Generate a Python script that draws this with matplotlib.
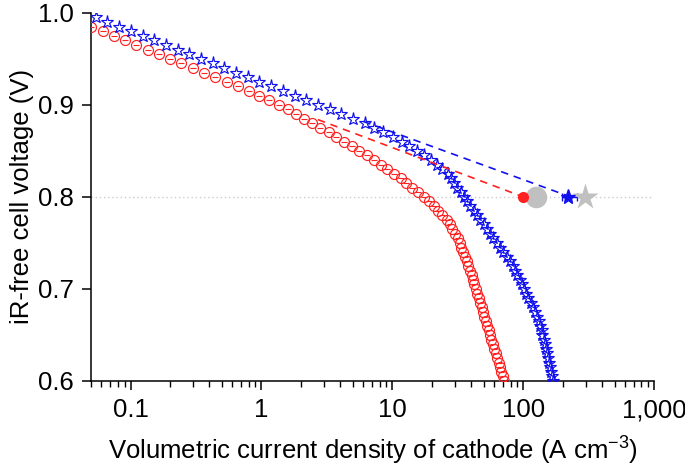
import matplotlib
matplotlib.use("Agg")
import matplotlib.pyplot as plt
from matplotlib.ticker import FixedLocator, FixedFormatter, LogLocator, NullFormatter

plt.rcParams["font.family"] = ["Liberation Sans", "DejaVu Sans"]
plt.rcParams["mathtext.default"] = "regular"

# polarisation curve 1 (red circles): cell voltage (V) vs volumetric current (A cm^-3)
red_v = [0.985, 0.980, 0.975, 0.970, 0.965, 0.960, 0.955, 0.950, 0.945, 0.940,
         0.935, 0.930, 0.925, 0.920, 0.915, 0.910, 0.905, 0.900, 0.895, 0.890,
         0.885, 0.880, 0.875, 0.870, 0.865, 0.860, 0.855, 0.850, 0.845, 0.840,
         0.835, 0.830, 0.825, 0.820, 0.815, 0.810, 0.805, 0.800, 0.795, 0.790,
         0.785, 0.780, 0.775, 0.770, 0.765, 0.760, 0.755, 0.750, 0.745, 0.740,
         0.735, 0.730, 0.725, 0.720, 0.715, 0.710, 0.705, 0.700, 0.695, 0.690,
         0.685, 0.680, 0.675, 0.670, 0.665, 0.660, 0.655, 0.650, 0.645, 0.640,
         0.635, 0.630, 0.625, 0.620, 0.615, 0.610, 0.605, 0.600]
red_i = [0.0501, 0.0611, 0.0745, 0.0910, 0.111, 0.135, 0.165, 0.201, 0.245, 0.299,
         0.365, 0.445, 0.542, 0.662, 0.807, 0.964, 1.15, 1.37, 1.59, 1.83,
         2.11, 2.44, 2.82, 3.26, 3.73, 4.27, 4.89, 5.60, 6.41, 7.22,
         8.13, 9.15, 10.3, 11.6, 12.8, 14.2, 15.7, 17.3, 19.1, 20.7,
         22.3, 24.1, 26.0, 27.4, 28.8, 30.2, 31.8, 32.7, 33.7, 34.8,
         35.9, 37.0, 38.1, 39.3, 40.3, 41.3, 42.4, 43.4, 44.5, 45.6,
         46.8, 48.0, 49.2, 50.5, 51.8, 53.1, 54.3, 55.7, 57.1, 58.6,
         60.1, 61.7, 63.2, 64.9, 66.4, 68.1, 69.8, 71.6]

# polarisation curve 2 (blue stars)
blue_v = [0.995, 0.990, 0.985, 0.980, 0.975, 0.970, 0.965, 0.960, 0.955, 0.950,
          0.945, 0.940, 0.935, 0.930, 0.925, 0.920, 0.915, 0.910, 0.905, 0.900,
          0.895, 0.890, 0.885, 0.880, 0.875, 0.870, 0.865, 0.860, 0.855, 0.850,
          0.845, 0.840, 0.835, 0.830, 0.825, 0.820, 0.815, 0.810, 0.805, 0.800,
          0.795, 0.790, 0.785, 0.780, 0.775, 0.770, 0.765, 0.760, 0.755, 0.750,
          0.745, 0.740, 0.735, 0.730, 0.725, 0.720, 0.715, 0.710, 0.705, 0.700,
          0.695, 0.690, 0.685, 0.680, 0.675, 0.670, 0.665, 0.660, 0.655, 0.650,
          0.645, 0.640, 0.635, 0.630, 0.625, 0.620, 0.615, 0.610, 0.605, 0.600]
blue_i = [0.0543, 0.0667, 0.0820, 0.1007, 0.124, 0.152, 0.187, 0.229, 0.281, 0.346,
          0.425, 0.521, 0.640, 0.787, 0.966, 1.19, 1.46, 1.79, 2.20, 2.70,
          3.32, 4.07, 5.00, 6.15, 7.24, 8.55, 10.1, 11.9, 13.5, 15.3,
          17.4, 19.8, 21.8, 24.0, 26.4, 28.0, 29.6, 31.4, 33.3, 35.2,
          37.3, 39.5, 41.9, 44.4, 47.0, 49.8, 52.7, 55.8, 59.2, 62.7,
          66.4, 70.3, 74.5, 78.9, 83.6, 86.9, 90.2, 93.8, 97.5, 101,
          105, 109, 114, 118, 123, 127, 132, 135, 138, 140,
          143, 146, 149, 151, 154, 157, 160, 164, 167, 170]

# Tafel extrapolations down to 0.8 V
red_fit_i = [2.7, 100]
red_fit_v = [0.884, 0.80]
blue_fit_i = [6.0, 230]
blue_fit_v = [0.882, 0.80]

# single points at 0.8 V
red_dot_i, red_dot_v = 100, 0.80
grey_circle_i, grey_circle_v = 126, 0.80
blue_star_i, blue_star_v = 220, 0.80
blue_star_err = [[24], [36]]
grey_star_i, grey_star_v = 296, 0.80

xtick_vals = [0.1, 1, 10, 100, 1000]
xtick_labels = ["0.1", "1", "10", "100", "1,000"]
ytick_vals = [0.6, 0.7, 0.8, 0.9, 1.0]
ytick_labels = ["0.6", "0.7", "0.8", "0.9", "1.0"]

RED = "#ff2020"
BLUE = "#1010ee"
GREY = "#c0c0c0"
FS = 18.5

fig = plt.figure(figsize=(6.85, 4.75), dpi=100)
ax = fig.add_axes([0.133, 0.198, 0.822, 0.775])

ax.axhline(0.8, color="#cccccc", lw=1.0, ls=(0, (1, 2)), zorder=0)

ax.plot(red_i, red_v, "o", ms=7.2, mfc="none", mec=RED, mew=0.85, zorder=3)
ax.plot(red_i, red_v, "_", ms=5, mec=RED, mew=0.8, zorder=3)
ax.plot(blue_i, blue_v, "*", ms=9.5, mfc="none", mec=BLUE, mew=0.85, zorder=4)

ax.plot(red_fit_i, red_fit_v, color=RED, lw=1.2, ls=(0, (4.5, 3.5)), zorder=5)
ax.plot(blue_fit_i, blue_fit_v, color=BLUE, lw=1.2, ls=(0, (4.5, 3.5)), zorder=5)

ax.plot(grey_circle_i, grey_circle_v, "o", ms=15.5, color=GREY, mec="none", zorder=5)
ax.plot(red_dot_i, red_dot_v, "o", ms=8, color=RED, mec="none", zorder=6)
ax.errorbar(blue_star_i, blue_star_v, xerr=blue_star_err, fmt="*", ms=11,
            color=BLUE, ecolor=BLUE, elinewidth=1.0, capsize=2.8, capthick=1.0, zorder=6)
ax.plot(grey_star_i, grey_star_v, "*", ms=20, color=GREY, mec="none", zorder=6)

ax.set_xscale("log")
ax.set_xlim(0.05, 1000)
ax.set_ylim(0.6, 1.0)
ax.xaxis.set_major_locator(FixedLocator(xtick_vals))
ax.xaxis.set_major_formatter(FixedFormatter(xtick_labels))
ax.xaxis.set_minor_locator(LogLocator(base=10, subs=range(2, 10), numticks=20))
ax.xaxis.set_minor_formatter(NullFormatter())
ax.yaxis.set_major_locator(FixedLocator(ytick_vals))
ax.yaxis.set_major_formatter(FixedFormatter(ytick_labels))

for side in ("top", "right"):
    ax.spines[side].set_visible(False)
for side in ("left", "bottom"):
    ax.spines[side].set_linewidth(1.1)
ax.tick_params(which="major", direction="out", length=6.5, width=1.1, labelsize=FS, pad=6)
ax.tick_params(which="minor", direction="out", length=4, width=1.0)

ax.set_xlabel("Volumetric current density of cathode (A cm$^{-3}$)", fontsize=FS, labelpad=9)
ax.set_ylabel("iR-free cell voltage (V)", fontsize=FS, labelpad=3)

fig.savefig("out.png", dpi=100)
